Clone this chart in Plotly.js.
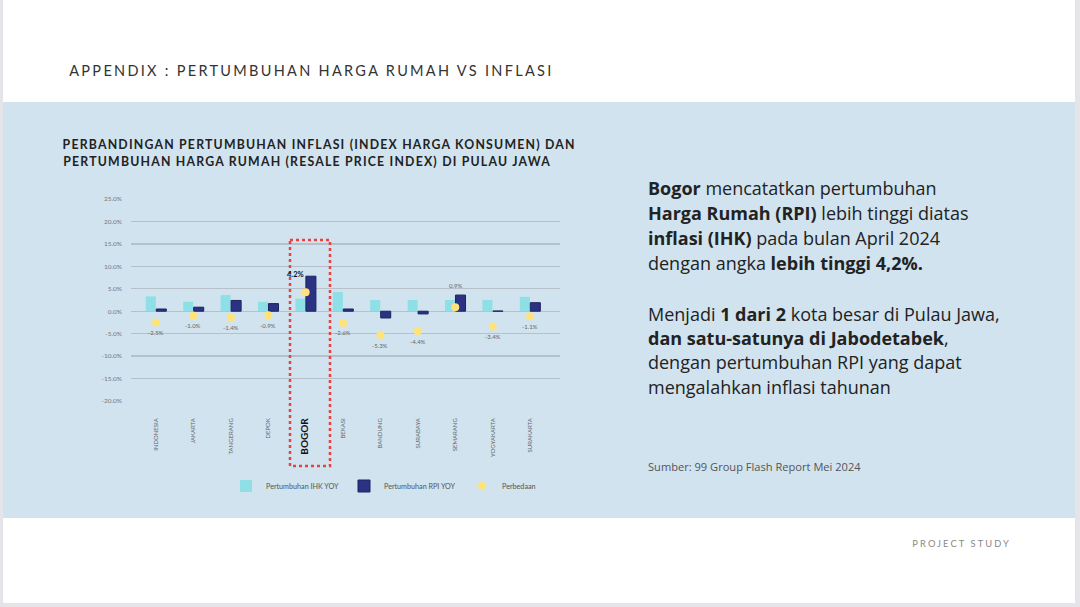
<!DOCTYPE html>
<html>
<head>
<meta charset="utf-8">
<script src="https://cdn.plot.ly/plotly-3.0.1.min.js"></script>
<style>
html,body{margin:0;padding:0;background:#fff;}
#chart{width:1080px;height:607px;}
</style>
</head>
<body>
<div id="chart"></div>
<script>
// ---- data ----
const cities = ["INDONESIA","JAKARTA","TANGERANG","DEPOK","BOGOR","BEKASI","BANDUNG","SURABAYA","SEMARANG","YOGYAKARTA","SURAKARTA"];
const ihkYoY = [3.3, 2.1, 3.6, 2.1, 2.8, 4.3, 2.5, 2.5, 2.5, 2.5, 3.2];
const rpiYoY = [0.5, 0.9, 2.4, 1.7, 7.8, 0.5, -1.5, -0.6, 3.6, 0.05, 1.9];
const perbedaan = [-2.5, -1.0, -1.4, -0.9, 4.2, -2.6, -5.3, -4.4, 0.9, -3.4, -1.1];
const yTickVals = [25, 20, 15, 10, 5, 0, -5, -10, -15, -20];
const yTickText = ["25.0%","20.0%","15.0%","10.0%","5.0%","0.0%","-5.0%","-10.0%","-15.0%","-20.0%"];
const highlightCity = "BOGOR";

// ---- page geometry helpers ----
const W = 1080, H = 607, ML = 131, MR = 520, MT = 198, MB = 205;
const PW = W - ML - MR, PH = H - MT - MB;
const px = v => (v - ML) / PW;
const py = v => (H - MB - v) / PH;

const tickText = cities.map(c => c === highlightCity
  ? '<span style="font-size:10px;color:#111"><b>' + c + '</b></span>' : c);

const traces = [
  {type:'bar', name:'Pertumbuhan IHK YOY', x:cities, y:ihkYoY,
   marker:{color:'#8fe0e6', line:{width:0}}},
  {type:'bar', name:'Pertumbuhan RPI YOY', x:cities, y:rpiYoY,
   marker:{color:'#2b3283', line:{color:'#1e2461', width:1}}},
  {type:'scatter', mode:'markers', name:'Perbedaan', x:cities, y:perbedaan,
   marker:{color:'#ffe27a', size:8}, cliponaxis:false}
];

const FONT = 'Lato, sans-serif';
const BODY = '"Open Sans", sans-serif';
const spaced = []; // [annotation index, letter spacing]
const annotations = [];
function txt(text, x, y, size, color, family, ls) {
  const plain = text.replace(/<[^>]+>/g, '');
  const shift = ls ? ls * plain.length / 2 : 0;
  if (ls) spaced.push([annotations.length, ls]);
  annotations.push({text:text, xref:'paper', yref:'paper', x:px(x + shift), y:py(y),
    xanchor:'left', yanchor:'middle', showarrow:false,
    font:{family:family || FONT, size:size, color:color}});
}

txt('APPENDIX : PERTUMBUHAN HARGA RUMAH VS INFLASI', 67, 70, 14.5, '#333', FONT, 2.3);
txt('<b>PERBANDINGAN PERTUMBUHAN INFLASI (INDEX HARGA KONSUMEN) DAN</b>', 61, 144, 12.3, '#222', FONT, 1.2);
txt('<b>PERTUMBUHAN HARGA RUMAH (RESALE PRICE INDEX) DI PULAU JAWA</b>', 61, 161, 12.3, '#222', FONT, 1.2);
txt('PROJECT STUDY', 910, 543, 9.3, '#888', FONT, 2.1);
txt('<b>Bogor</b> mencatatkan pertumbuhan', 646, 188, 18, '#222', BODY);
txt('<b>Harga Rumah (RPI)</b> lebih tinggi diatas', 646, 213, 18, '#222', BODY);
txt('<b>inflasi (IHK)</b> pada bulan April 2024', 646, 238, 18, '#222', BODY);
txt('dengan angka <b>lebih tinggi 4,2%.</b>', 646, 263, 18, '#222', BODY);
txt('Menjadi <b>1 dari 2</b> kota besar di Pulau Jawa,', 646, 314, 18, '#222', BODY);
txt('<b>dan satu-satunya di Jabodetabek</b>,', 646, 338, 18, '#222', BODY);
txt('dengan pertumbuhan RPI yang dapat', 646, 362, 18, '#222', BODY);
txt('mengalahkan inflasi tahunan', 646, 387, 18, '#222', BODY);
txt('Sumber: 99 Group Flash Report Mei 2024', 646, 466, 11.1, '#555', BODY);

// value labels for the "Perbedaan" points, anchored to the data through the axes
perbedaan.forEach((v, i) => {
  const hi = cities[i] === highlightCity;
  const s = v.toFixed(1) + '%';
  annotations.push({text: hi ? '<b>' + s + '</b>' : s, x:cities[i], y:v, xref:'x', yref:'y',
    showarrow:false, xanchor:'center', yanchor:'middle',
    xshift: hi ? -10 : 0, yshift: hi ? 18 : (v > 0 ? 22 : -10),
    font:{family:FONT, size: hi ? 7.5 : 6, color: hi ? '#111' : '#666'}});
});

const shapes = [
  {type:'rect', xref:'paper', yref:'paper', layer:'below',
   x0:px(3), x1:px(1075), y0:py(0), y1:py(603), fillcolor:'#ffffff', line:{width:0}},
  {type:'rect', xref:'paper', yref:'paper', layer:'below',
   x0:px(3), x1:px(1075), y0:py(102), y1:py(518), fillcolor:'#d1e3ef', line:{width:0}},
  {type:'rect', xref:'paper', yref:'paper', layer:'above',
   x0:px(290), x1:px(330), y0:py(240), y1:py(466), fillcolor:'rgba(0,0,0,0)',
   line:{color:'#e8413f', width:2.5, dash:'dot'}}
];

const layout = {
  width:W, height:H,
  margin:{l:ML, r:MR, t:MT, b:MB, pad:0},
  paper_bgcolor:'#e4e4e9', plot_bgcolor:'rgba(0,0,0,0)',
  font:{family:FONT, color:'#666'},
  barmode:'group', bargap:0.44, bargroupgap:0.04,
  showlegend:true,
  legend:{orientation:'h', x:px(226), y:py(486), xanchor:'left', yanchor:'middle',
    font:{size:7.2, color:'#555'}, bgcolor:'rgba(0,0,0,0)',
    entrywidth:73, entrywidthmode:'pixels', traceorder:'normal'},
  xaxis:{type:'category', range:[-0.67, 10.8], tickangle:-90,
    tickvals:cities, ticktext:tickText, tickfont:{size:6, color:'#666'},
    showgrid:false, zeroline:false, showline:false, ticks:'', ticklabelstandoff:14, fixedrange:true},
  yaxis:{range:[-20.2, 25.2], tickvals:yTickVals, ticktext:yTickText,
    tickfont:{size:6.5, color:'#777'}, showgrid:true, gridcolor:'#b7bfc8', gridwidth:1.4,
    zeroline:true, zerolinecolor:'#b7bfc8', zerolinewidth:1.4, showline:false, ticks:'',
    ticklabelstandoff:8, fixedrange:true},
  annotations:annotations,
  shapes:shapes
};

// letter spacing for the spaced-caps headings
const css = spaced.map(([i, ls]) => '.annotation[data-index="' + i + '"] text{letter-spacing:' + ls + 'px;}').join('\n');
const st = document.createElement('style'); st.textContent = css; document.head.appendChild(st);

Plotly.newPlot('chart', traces, layout, {displayModeBar:false, staticPlot:true});
</script>
</body>
</html>
